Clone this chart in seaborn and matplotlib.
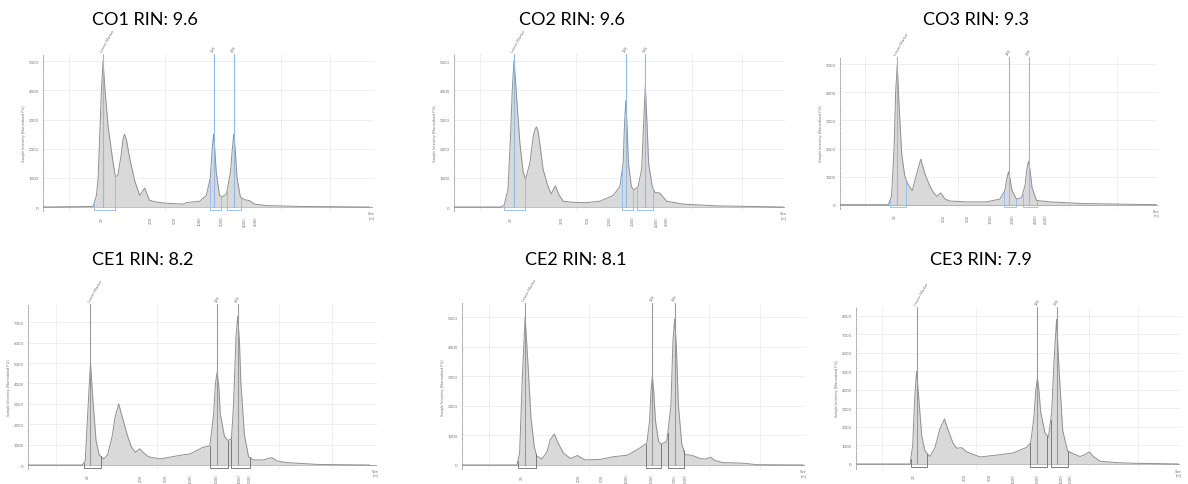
import numpy as np
import pandas as pd
import matplotlib
matplotlib.use("Agg")
import matplotlib.pyplot as plt
import seaborn as sns

# ---------------- data (x = relative run position, 0-100 %; y = intensity FU) ----------------
titles = ["CO1 RIN: 9.6", "CO2 RIN: 9.6", "CO3 RIN: 9.3",
          "CE1 RIN: 8.2", "CE2 RIN: 8.1", "CE3 RIN: 7.9"]

co1_x = [0, 15.2, 16.2, 16.7, 17.2, 17.7, 18.2, 18.8, 19.7, 21.2, 22.0, 22.7, 23.7, 24.2, 24.7, 25.3,
         26.3, 27.8, 29.3, 30.8, 32.3, 34.3, 37.4, 42.4, 43.4, 47.5, 49.5, 50.7, 51.2, 51.7, 52.1,
         52.5, 53.5, 54.3, 55.6, 56.8, 57.3, 57.8, 58.3, 58.8, 59.8, 61.1, 62.6, 64.1, 67.7, 77.8, 99]
co1_y = [0, 20, 400, 1000, 2500, 4000, 5000, 4000, 2800, 1540, 1030, 1100, 1800, 2300, 2500, 2300,
         1650, 900, 400, 650, 230, 170, 130, 100, 150, 200, 400, 1000, 1900, 2500, 1900,
         1200, 400, 350, 450, 1200, 1900, 2500, 1900, 1000, 350, 250, 220, 100, 50, 20, 0]

co2_x = [0, 13.8, 15.1, 16.3, 17.1, 17.6, 18.1, 18.5, 18.9, 19.9, 20.9, 21.6, 22.9, 23.9, 24.4, 24.9,
         25.4, 25.9, 26.9, 28.4, 29.4, 30.6, 31.8, 33.0, 36.0, 40.0, 44.1, 48.1, 50.1, 51.1, 51.5,
         51.9, 52.3, 52.7, 53.6, 54.3, 55.6, 56.7, 57.3, 57.8, 58.3, 58.8, 59.9, 60.7, 62.2, 64.2,
         69.3, 79.3, 99.5]
co2_y = [0, 0, 50, 600, 2500, 4000, 5000, 4500, 3800, 2200, 1200, 950, 1500, 2400, 2650, 2750,
         2600, 2200, 1300, 700, 450, 730, 400, 200, 160, 150, 200, 400, 700, 1500, 2800,
         3650, 2700, 1500, 700, 580, 700, 1300, 2900, 4150, 2900, 1500, 700, 500, 480, 200,
         100, 40, 0]

co3_x = [0, 15.2, 16.2, 17.0, 17.5, 18.0, 18.6, 19.4, 20.4, 21.5, 22.7, 24.1, 25.4, 26.7, 28.1, 29.3,
         30.4, 31.7, 33.0, 34.6, 39.8, 46.1, 50.3, 51.8, 52.5, 53.0, 53.5, 54.1, 55.5, 57.1, 58.2,
         58.8, 59.3, 59.8, 60.4, 61.8, 66.0, 76.4, 99.5]
co3_y = [0, 0, 300, 2000, 4000, 4980, 3500, 1800, 1000, 700, 500, 1100, 1620, 1100, 700, 450,
         300, 420, 200, 130, 100, 100, 200, 500, 950, 1170, 900, 500, 200, 250, 700,
         1300, 1550, 1200, 600, 150, 100, 40, 0]

ce1_x = [0, 15.5, 16.4, 17.1, 17.9, 18.6, 19.5, 20.4, 21.7, 22.8, 24.1, 25.0, 26.0, 27.1, 28.4, 29.6,
         30.8, 32.0, 33.1, 34.6, 37.9, 42.7, 46.5, 49.9, 52.1, 53.2, 53.7, 54.2, 54.7, 55.1, 56.3,
         57.3, 58.3, 58.9, 59.6, 60.1, 60.6, 61.0, 62.0, 63.2, 64.7, 67.5, 68.9, 69.9, 71.3, 74.2,
         82.8, 98]
ce1_y = [0, 0, 200, 2500, 5000, 3200, 1200, 500, 300, 500, 1400, 2400, 3000, 2300, 1500, 900,
         620, 800, 600, 400, 300, 450, 550, 850, 950, 2500, 4000, 4550, 3800, 2500, 1400,
         1200, 1300, 3000, 6300, 7300, 6000, 4000, 1500, 400, 250, 250, 330, 360, 200, 120,
         30, 0]

ce2_x = [0, 16.0, 16.8, 17.6, 18.4, 19.2, 20.1, 21.1, 21.8, 23.3, 24.8, 25.7, 26.9, 28.2, 29.6, 31.6,
         33.7, 35.9, 40.3, 44.2, 48.1, 50.5, 52.4, 53.9, 54.7, 55.1, 55.5, 55.9, 56.4, 57.3, 58.1,
         59.7, 60.9, 61.5, 62.0, 62.5, 63.1, 64.1, 65.0, 67.0, 69.4, 70.9, 72.5, 73.8, 76.2, 82.0,
         85.9, 99.5]
ce2_y = [0, 0, 400, 3000, 5000, 3500, 1600, 600, 300, 200, 450, 850, 1050, 700, 400, 220,
         320, 170, 190, 280, 330, 480, 620, 750, 1500, 2500, 3000, 2500, 1500, 800, 700,
         800, 2000, 4200, 4950, 4000, 2000, 700, 350, 330, 220, 200, 260, 150, 80, 60,
         10, 0]

ce3_x = [0, 16.7, 17.5, 18.1, 18.7, 19.4, 20.3, 21.3, 22.8, 24.4, 25.9, 27.3, 28.5, 30.0, 31.1, 32.6,
         34.2, 38.3, 44.4, 48.6, 52.7, 53.9, 54.9, 55.5, 56.0, 56.5, 57.0, 58.3, 59.4, 60.4, 61.1,
         61.9, 62.7, 63.8, 65.3, 67.1, 69.1, 70.6, 72.0, 73.3, 75.3, 80.5, 85.6, 95.9, 99.5]
ce3_y = [0, 0, 1000, 3500, 5000, 3500, 1500, 700, 400, 900, 1900, 2430, 1800, 1100, 850, 880,
         650, 380, 500, 600, 900, 1150, 2500, 4000, 4650, 3900, 2800, 1700, 1450, 2800, 5500,
         7800, 5000, 1800, 700, 550, 400, 500, 650, 400, 150, 70, 40, 10, 0]

curves_x = [co1_x, co2_x, co3_x, ce1_x, ce2_x, ce3_x]
curves_y = [co1_y, co2_y, co3_y, ce1_y, ce2_y, ce3_y]

# peak markers (Lower Marker, 18S, 28S) positions
marker_names = ["Lower Marker", "18S", "28S"]
co1_markers = [18.2, 51.7, 57.8]
co2_markers = [18.1, 51.9, 57.8]
co3_markers = [18.0, 53.0, 59.3]
ce1_markers = [17.9, 54.2, 60.1]
ce2_markers = [18.4, 55.5, 62.0]
ce3_markers = [18.7, 56.0, 61.9]
markers = [co1_markers, co2_markers, co3_markers, ce1_markers, ce2_markers, ce3_markers]

# integration regions (start, end)
co1_regions = [(15.5, 21.9), (50.6, 54.0), (55.9, 60.1)]
co2_regions = [(15.1, 21.4), (50.8, 54.1), (55.3, 60.2)]
co3_regions = [(15.7, 20.9), (51.5, 55.5), (57.4, 62.0)]
ce1_regions = [(16.0, 20.9), (52.1, 57.3), (58.2, 63.5)]
ce2_regions = [(16.3, 21.6), (53.5, 58.1), (60.0, 64.6)]
ce3_regions = [(16.9, 22.0), (53.7, 59.1), (60.1, 65.5)]
regions = [co1_regions, co2_regions, co3_regions, ce1_regions, ce2_regions, ce3_regions]

# size ladder ticks
size_labels = ["25", "200", "500", "1000", "2000", "4000", "6000"]
co1_ticks = [17.7, 32.8, 39.9, 47.5, 54.3, 61.3, 64.4]
co2_ticks = [17.1, 32.7, 40.3, 47.1, 54.1, 61.2, 64.2]
co3_ticks = [17.3, 32.5, 40.3, 47.3, 54.2, 61.6, 64.6]
ce1_ticks = [17.1, 32.2, 39.5, 46.7, 54.2, 60.6, 63.5]
ce2_ticks = [17.5, 34.0, 40.8, 48.1, 55.3, 62.1, 65.3]
ce3_ticks = [17.9, 33.6, 41.2, 48.6, 56.0, 63.5, 66.3]
ticks = [co1_ticks, co2_ticks, co3_ticks, ce1_ticks, ce2_ticks, ce3_ticks]

y_max_ticks = [5000, 5000, 5000, 7000, 5000, 8000]

# ---------------- layout ----------------
sns.set_theme(style="white")
plt.rcParams['font.family'] = ['Lato', 'DejaVu Sans']

W, H = 1188, 485
fig = plt.figure(figsize=(W / 100, H / 100), dpi=100)

# (left px, right px, top px, bottom px, ylim low, ylim high)
boxes = [
    (43, 373, 55.0, 212.4, -150, 5250),
    (454, 785, 55.0, 212.4, -150, 5250),
    (840, 1158, 58.2, 209.9, -150, 5250),
    (28, 377, 305.0, 470.1, -200, 7900),
    (462, 805, 304.0, 470.4, -150, 5490),
    (856, 1180, 308.3, 469.6, -250, 8460),
]
title_pos = [(145, 20), (572, 20), (976, 20), (143, 260), (576, 260), (981, 260)]

fill_c = "#d9d9d9"
line_c = "#909090"

for i in range(6):
    l, r, t, b, ylo, yhi = boxes[i]
    ax = fig.add_axes([l / W, 1 - b / H, (r - l) / W, (b - t) / H])
    df = pd.DataFrame({"pos": curves_x[i], "fu": curves_y[i]})
    ax.fill_between(df["pos"], 0, df["fu"], color=fill_c, zorder=2, linewidth=0)
    sns.lineplot(data=df, x="pos", y="fu", ax=ax, color=line_c, linewidth=0.7, zorder=3)
    ax.set_xlim(0, 100)
    ax.set_ylim(ylo, yhi)

    is_co = i < 3
    mk_c = "#8fbaf0" if is_co else "#9a9a9a"
    box_c = "#8fbaf0" if is_co else "#6a6a6a"

    # grid
    for gx in [8, 37, 72, 87]:
        ax.axvline(gx, color="#ececec", lw=0.6, zorder=0)
    yt = list(range(0, y_max_ticks[i] + 1, 1000))
    ax.set_yticks(yt)
    ax.set_yticklabels([str(v) for v in yt], fontsize=3.2, color="#777777")
    for v in yt[1:]:
        ax.axhline(v, color="#ececec", lw=0.6, zorder=0)
    ax.axhline(0, color="#9a9a9a", lw=0.6, zorder=1)
    ax.tick_params(axis="y", length=0, pad=3)

    # x ticks
    ax.set_xticks(ticks[i])
    ax.set_xticklabels(size_labels, rotation=90, fontsize=3.0, color="#777777")
    ax.tick_params(axis="x", length=2.5, width=0.5, color="#999999", pad=0.8)

    # spines
    for s in ["top", "right", "bottom"]:
        ax.spines[s].set_visible(False)
    ax.spines["left"].set_linestyle((0, (1.5, 1.5)))
    ax.spines["left"].set_color("#999999")
    ax.spines["left"].set_linewidth(0.6)

    ax.set_xlabel("")
    ax.set_ylabel("Sample Intensity [Normalized FU]", fontsize=2.8, color="#777777", labelpad=2)

    # markers
    cx = np.array(curves_x[i], dtype=float)
    cy = np.array(curves_y[i], dtype=float)
    for m, name in zip(markers[i], marker_names):
        ax.plot([m, m], [0, yhi], color=mk_c, lw=0.8, zorder=4)
        ax.text(m, yhi * 1.01, name, rotation=60, fontsize=3.0, color="#777777",
                ha="left", va="bottom", clip_on=False, rotation_mode="anchor")

    # integration regions
    for (a0, a1) in regions[i]:
        ya = np.interp(a0, cx, cy)
        yb = np.interp(a1, cx, cy)
        low = ylo * 0.65
        ax.plot([a0, a0, a1, a1], [ya, low, low, yb], color=box_c, lw=0.6, zorder=4,
                clip_on=False)

    ax.text(99.5, ylo, "Size\n[nt]", fontsize=2.8, color="#777777", ha="center", va="top",
            clip_on=False)

    tx, ty = title_pos[i]
    fig.text(tx / W, 1 - ty / H, titles[i], fontsize=13, ha="center", va="center",
             color="black")

fig.savefig("out.png", dpi=100, facecolor="white")
